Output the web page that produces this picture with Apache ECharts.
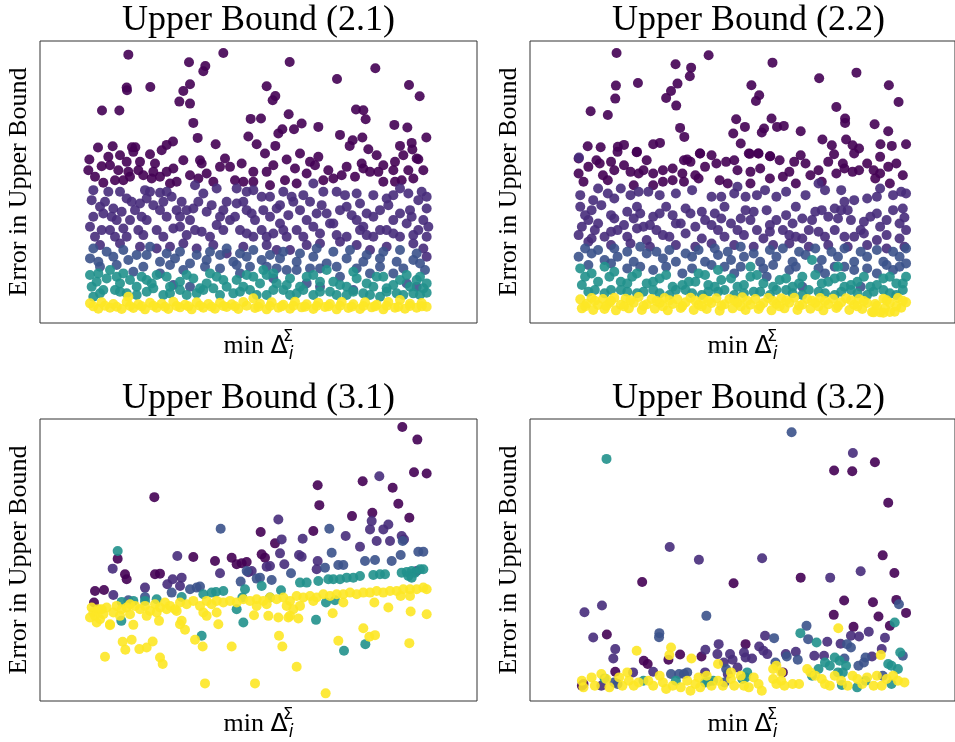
<!DOCTYPE html>
<html>
<head>
<meta charset="utf-8">
<script src="https://cdn.jsdelivr.net/npm/echarts@6/dist/echarts.min.js"></script>
<style>
  html, body { margin: 0; padding: 0; background: #fff; }
  #chart { width: 955px; height: 742px; }
</style>
</head>
<body>
<div id="chart"></div>
<script>
// panel titles and axis names
var titles = ['Upper Bound (2.1)', 'Upper Bound (2.2)', 'Upper Bound (3.1)', 'Upper Bound (3.2)'];
var yName = 'Error in Upper Bound';

// viridis levels used for the colour classes (c0 .. c4)
var levels = ['#440154', '#472c7b', '#3b528b', '#21918c', '#fde725'];

// ---- Upper Bound (2.1) ----
var ub21_c0 = [[14.5,80.6],[43,81.1],[32.7,78.3],[37.6,77.2],[37,75.6],[62.9,78.4],[88.6,76.5],[77.1,73.3],[98.7,71.5],[101.9,68.1],[14,70.7],[14.1,69.9],[21.1,70.9],[33,71.7],[31,69.7],[29.8,66.5],[33,65.9],[56,71.1],[58.6,68.2],[57.8,66.9],[6.6,63.8],[11.8,63.8],[34,60.1],[35.3,55.6],[40.7,53.7],[51.2,61.3],[54.3,61.4],[50.5,56],[53,53.7],[62.6,62.7],[60.7,58.2],[59.5,56.9],[64.2,58.2],[66.5,59.9],[58.6,53.2],[71.5,58.9],[82.8,64.1],[85,63.9],[85.7,61.2],[78,56.5],[81.8,54.9],[80.9,53.2],[84.7,55.7],[94.3,59.5],[98.2,58.7],[103.9,55.7],[96,53.2],[99.5,54.1],[99.7,52.1],[86.5,52.2],[101.5,49.2],[5.4,52.7],[9.8,53.1],[15.6,52.8],[16.6,52.8],[27.9,54.5],[26,53.5],[24.5,51.9],
  [2.8,49.1],[8.5,49.9],[12,50.4],[16,51.4],[21,50.7],[9,47.4],[14,48.4],[11.5,45.9],[14.5,45.4],[17.5,45.9],[22.5,47.9],[22,45.4],[28,46.4],[4.5,43.9],[7,42.1],[10.5,42.9],[13,42.9],[15,43.9],[19,44.4],[21.5,43.4],[24,43.9],[29,42.4],[36,48.9],[36.5,47.9],[42,46.9],[45,46.9],[48.5,47.9],[52,45.4],[56,45.4],[55.5,50.9],[62,49.1],[35.5,43.4],[40,42.4],[46.5,42.9],[49,42.4],[52,42.4],[61.5,42.9],[68,44.9],[69,48.4],[71.5,49.9],[70.5,47.4],[74.5,45.9],[76,43.4],[78.5,44.4],[84.5,47.9],[85,46.4],[87,45.4],[89.5,45.4],[82.5,43.9],[89,50.4],[94.5,48.4],[94,45.9],[98.5,45.9],[101,49.4],[94.5,42.4],[96.5,42.9],[100,43.4],
  [6.5,47.1],[18,48.4],[26,45.4],[31,48.9],[38,44.9],[43.5,49.4],[58,47.4],[64.5,46.4],[66,50.9],[73,42.9],[80,46.9],[91,47.4],[97,50.4],[103,45.9],[2.5,45.9],[27,41.9],[33,44.4],[57,41.4],[65,41.9],[91,42.4]];
var ub21_c1 = [[4,39.9],[12,39.4],[19.5,39.9],[21,39.4],[24,39.1],[34.5,41.4],[47,40.4],[50,39.4],[52,39.9],[54.5,37.9],[61,39.4],[63.5,37.9],[70,41.9],[77,39.4],[79.5,38.4],[96,40.4],[98.5,38.9],[102.5,39.4],[101.5,36.9],[99,33.9],[88,38.4],[92,37.4],[3.5,36.9],[7.5,36.4],[10,34.4],[7,32.9],[4,31.9],[3,28.9],[6.5,27.9],[10.5,25.9],[13,28.4],[15.5,36.4],[18,35.9],[20,37.4],[22,35.4],[24,33.9],[26,31.9],[15,30.9],[20,30.9],[27.5,37.9],[30.5,36.4],[32,33.9],[30,31.9],[34,34.4],[34.5,27.9],[32,26.4],[36.5,27.4],[38,33.4],[42,31.9],[41,29.4],[45,30.9],[47,35.9],[44,36.4],[50,33.9],[52.5,30.9],[55,33.9],[54.5,27.9],[52,25.9],[48,27.9],[60,35.4],[64,36.4],[62.5,32.4],[60,29.9],[58,26.9],[65,27.9],[62,25.9],[69,36.4],[71,32.9],[74,32.9],[70,28.9],[76,29.9],[80,34.9],[84,35.9],[86,32.9],[83,30.9],[88,31.9],[80,25.9],[86,26.4],[90,27.9],[94,30.9],[92,27.9],[96,25.9],[98,29.9],[101.5,27.9],[103,30.9],[104.5,28.9],[28,28.4],[23,27.9],[17.5,27.9],[11,30.9],
  [6,23.4],[12,23.9],[18,22.9],[23,22.4],[27,22.9],[31,23.9],[35,22.4],[40,23.4],[44,20.9],[49,22.9],[56,23.4],[59,21.9],[63,21.9],[68,23.4],[72,23.9],[78,24.4],[83,23.4],[87,21.9],[92,22.9],[100,23.9],[103,22.4],[104,19.9],
  [6,34.9],[9.5,31.9],[12.5,33.4],[16.5,33.9],[18.5,31.9],[25,36.4],[29,33.9],[33,30.9],[35.5,36.4],[39.5,35.4],[43,33.9],[46.5,31.9],[49,36.4],[51.5,32.9],[57,31.9],[59,34.4],[66,33.9],[68,30.9],[72.5,35.4],[75,29.9],[78,33.9],[81.5,32.4],[85,28.9],[90,33.9],[92.5,35.4],[96,32.9],[99.5,31.9],[104,34.4],[4.5,25.9],[9,27.9],[14,25.9],[19,26.4],[25,25.9],[30,28.9],[39,25.9],[43,27.9],[50,26.9],[56,25.9],[61,27.9],[67,25.9],[72,26.9],[77,26.4],[84,27.9],[88,25.9],[94,26.9],[100,26.4],[104,25.9],
  [8.5,39.4],[14,37.4],[26,39.4],[37,38.9],[41,40.4],[57,37.9],[67,38.4],[73,39.4],[83,38.9],[94,38.4],[104,37.9]];
var ub21_c2 = [[3,19.4],[5.5,18.4],[10,19.9],[14.5,18.9],[20,20.4],[24,18.4],[28.5,19.4],[33,17.9],[38,18.9],[42,20.4],[46,18.4],[50,19.9],[54.5,18.9],[60,19.4],[65,18.4],[70,19.9],[74,17.9],[80,19.4],[85,18.4],[90,19.4],[95,18.4],[100,18.9],[103.5,15.9],[47,17.4],[56,16.9],[69,16.4],[62,15.9],[37.5,16.9],[16,15.4],[24,14.9],[28,11.4],[33,10.9],[48,14.9],[58,13.4],[68,11.9],[72,10.9],[78,13.9],[82,9.9],[87,14.9],[94,14.9],[98,11.9],[101,10.9],
  [4,22.4],[8,21.4],[13,21.9],[17,20.4],[21,22.9],[26,20.9],[30,21.4],[35,20.4],[39,21.4],[44,22.4],[48,20.9],[52,21.9],[57,20.4],[61,21.4],[66,20.9],[71,22.4],[76,21.4],[81,21.9],[86,20.4],[91,21.4],[96,21.9],[101,20.9],[6,16.9],[11,17.4],[19,16.9],[27,17.4],[31,15.9],[42,16.4],[51,16.9],[59,16.4],[65,15.9],[72,16.4],[77,16.9],[83,16.4],[90,16.9],[97,16.4],[102,17.9]];
var ub21_c3 = [[3,14.4],[5.5,14.9],[9,15.9],[11,13.9],[13,14.9],[15,12.9],[18.5,13.9],[21.5,11.9],[26,13.9],[30,12.4],[34,13.4],[38,11.9],[41,13.9],[44,10.9],[47,12.9],[52,13.9],[56,14.4],[59,11.9],[63,13.4],[66,10.9],[70,14.4],[74,15.9],[76,12.4],[80,10.9],[83,13.4],[86,11.9],[89,13.9],[92,10.4],[96,12.9],[99,10.9],[102,13.9],[104,11.9],[3.5,10.9],[7,9.9],[10.5,9.9],[14,8.9],[20,9.4],[25,8.4],[30,9.9],[35,8.9],[40,10.4],[46,8.9],[51,9.9],[56,8.4],[61,9.9],[65,8.9],[70,8.4],[75,9.4],[80,8.4],[85,8.9],[90,7.9],[95,8.9],[100,8.9],[104,9.1],[4,7.9],[55,15.9],
  [5,12.4],[8,13.4],[12,11.9],[17,10.9],[20,12.9],[23,14.4],[27,10.9],[32,14.4],[36,10.4],[39,14.9],[43,12.9],[49,10.9],[50,14.4],[54,11.9],[58,14.9],[62,11.4],[68,13.9],[72,12.4],[78,11.4],[82,15.4],[88,10.9],[91,13.9],[94,11.4],[98,14.4],[101,12.9],[103,10.4],[6,8.9],[12,9.4],[17,8.4],[22,10.4],[27,8.9],[32,8.4],[37,9.9],[42,8.4],[48,9.4],[53,8.4],[58,9.9],[63,8.4],[67,9.9],[72,9.4],[77,8.4],[82,9.4],[87,8.4],[92,9.4],[97,8.4],[102,8.4]];
var ub21_c4 = [[3,5.9],[5.5,4.3],[6.5,6.2],[9,4.6],[10,5.7],[12.5,4.2],[14,6.3],[14.5,7.9],[16,4.5],[17.5,5.6],[19.5,4.1],[21,6.1],[23,4.6],[24.5,5.8],[26.5,4.2],[28,6.4],[30,4.7],[31.5,5.5],[33.5,4.1],[35,6.2],[37,4.6],[38.5,5.7],[40.5,4.3],[42,6.1],[44,4.8],[45.5,5.6],[47.5,4.2],[49,6.3],[52,7.4],[52.5,4.5],[54,5.8],[56,4.1],[57.5,6.2],[59.5,4.6],[61,5.5],[63,4.3],[64.5,6.4],[66.5,4.7],[68,5.6],[70,4.2],[71.5,6.1],[73.5,4.8],[75,5.7],[77,4.1],[78.5,6.3],[80.5,4.5],[82,5.6],[84,4.2],[85.5,6.2],[87.5,4.7],[89,5.5],[91,4.1],[92.5,6.3],[94.5,4.6],[96,6.9],[97.5,4.3],[99,5.8],[101,4.6],[102.5,6.0],[104,4.9],
  [4,5.0],[7.5,5.2],[11,4.9],[15,5.1],[18.5,5.0],[22,5.2],[25.5,4.9],[29,5.1],[32.5,5.0],[36,5.2],[39.5,4.9],[43,5.1],[46.5,5.0],[50,5.2],[53.5,4.9],[57,5.1],[60.5,5.0],[64,5.2],[67.5,4.9],[71,5.1],[74.5,5.0],[78,5.2],[81.5,4.9],[85,5.1],[88.5,5.0],[92,5.2],[95.5,4.9],[99,5.1],[102.5,5.0]];

// ---- Upper Bound (2.2) ----
var ub22_c0 = [[14.7,81.1],[43.1,80.4],[32.9,77.7],[37.7,76.7],[37.3,74.1],[62.8,78.2],[88.7,75.2],[77.2,73.5],[98.7,71.4],[101.7,66.4],[14.5,71.3],[14.3,67.4],[21.3,72.1],[33.5,71.9],[31.5,69.7],[30,67.6],[33.1,65.3],[56.3,71.4],[58.7,68.4],[57.7,66.7],[6.7,63.6],[12,62.5],[34.3,58.6],[35.6,55.9],[51.6,61.2],[54.3,58.9],[50.7,56.9],[53,53.9],[62.5,61.4],[60.2,58.4],[59.5,57.2],[64.2,58.9],[66.3,59.2],[71.5,57.6],[82.5,64.9],[85.2,61.4],[85.2,60.1],[94.3,59.7],[78.2,55.1],[81.1,53.4],[81.8,50.7],[85.5,55.1],[87.5,53.4],[89.5,52.4],[98.5,57.6],[96.1,53.7],[99.6,53.2],[104,53.7],[5.8,53.1],[9.8,52.8],[15.1,52.9],[17,53.5],[55.8,50.8],[58.4,50.9],[62.1,50.1],[28.1,54.1],[26,53.7],[20.9,51.3],[40.4,50.9],[36.5,49.1],
  [3,49.4],[8.5,48.9],[9.5,47.9],[13,48.4],[15,51.4],[21,51.4],[24,48.9],[29,45.9],[23,45.9],[21.5,44.9],[19,45.4],[14,45.9],[10.5,44.4],[12,42.9],[4.5,42.4],[20,41.4],[29,42.4],[35.5,48.9],[37.5,48.4],[40.5,50.9],[42,46.9],[45.5,47.9],[48.5,48.4],[52,45.9],[56,45.4],[55.5,50.9],[58.5,50.9],[62,50.1],[62,43.4],[68,45.4],[70,41.9],[69.5,48.4],[71.5,50.4],[73,47.9],[74.5,44.4],[35,44.9],[35.5,42.4],[40,43.4],[46.5,42.9],[49,41.9],[84.5,47.9],[85,46.4],[87.5,45.4],[89.5,45.9],[82.5,44.9],[88,50.9],[94,45.9],[94.5,43.4],[98.5,46.9],[101,47.9],[96,44.9],[99,41.9],
  [6,46.9],[17,47.4],[26,44.9],[32,46.4],[39,44.4],[44,50.4],[51,48.9],[59,46.4],[65,48.9],[66,43.9],[77,45.9],[80,48.4],[92,47.9],[96,49.9],[103,44.4],[3,44.9],[26,41.4],[32,42.9],[56,41.9],[78,42.4]];
var ub22_c1 = [[3.1,49.7],[16,40.4],[3.5,38.4],[7.5,36.9],[12,38.9],[21.5,39.4],[24.5,39.4],[28,38.4],[52,40.9],[47,37.9],[51,38.9],[54.5,37.9],[44,37.9],[60.5,39.9],[64,37.9],[77,41.9],[79,39.9],[96,40.4],[100,38.4],[102.5,39.4],[88,36.9],[92,37.4],[85,36.4],[82,34.4],[3.5,34.9],[7,33.9],[10,35.4],[13,32.4],[6,30.9],[4,28.9],[8,27.9],[11,25.9],[15,27.9],[18,33.4],[20,31.4],[23,28.9],[26,31.9],[27,27.9],[30,34.9],[32,32.4],[34.5,29.9],[31,25.9],[37.5,32.9],[39,28.9],[42,30.9],[45,32.9],[48,34.9],[50,29.9],[52,27.9],[54.5,33.9],[56,30.9],[58,27.9],[61,33.9],[64,30.9],[66,27.9],[60,25.4],[70,34.9],[72,31.4],[74,27.9],[76,33.4],[80,31.9],[82,27.9],[84,33.9],[87,30.9],[90,27.9],[93,31.9],[96,28.9],[100,33.9],[102,29.9],[104,27.9],[103.5,31.7],[88,25.9],[95,24.9],[79,25.9],[70,25.9],[48,25.9],[24,24.9],[21,34.9],
  [6,24.4],[13,23.4],[19,23.9],[25,22.9],[33,23.4],[39,22.9],[44,23.9],[51,23.4],[57,22.9],[63,23.4],[68,23.9],[74,22.9],[80,23.4],[86,22.9],[92,23.4],[98,22.4],[103.5,22.9],
  [5,32.4],[9,29.9],[14,31.4],[17,29.4],[22,32.9],[25,29.4],[28,32.9],[33,29.9],[36,34.4],[41,33.4],[44,29.4],[47,31.4],[53,31.4],[57,33.4],[62,29.4],[67,32.4],[69,29.9],[75,30.9],[78,33.9],[83,31.4],[86,33.9],[91,30.4],[95,32.9],[98,30.9],[103,34.4],[3,26.4],[7,25.4],[13,27.4],[18,25.9],[21,28.4],[29,26.4],[36,26.9],[41,25.4],[46,27.9],[54,26.4],[62,27.4],[68,26.4],[72,25.4],[77,27.4],[85,25.9],[91,26.9],[98,26.4],[102,25.4],
  [9,40.4],[14,37.4],[19,38.4],[33,38.9],[38,39.9],[58,38.4],[67,39.4],[73,38.4],[84,39.9],[95,37.9],[104,38.9]];
var ub22_c2 = [[3,19.9],[7,20.9],[11,18.9],[15,19.9],[20,18.4],[24,20.9],[29,19.4],[33,18.4],[38,19.9],[42,18.4],[46,20.4],[50,18.9],[54,19.9],[59,18.4],[64,19.9],[69,18.4],[73,20.4],[78,18.9],[83,19.9],[88,18.4],[92,19.9],[97,18.4],[102,19.9],[104,17.9],[22,16.9],[48,16.9],[60,16.4],[85,16.9],[26,15.9],[35,14.9],[51,14.9],[61,13.9],[68,15.9],[79,14.9],[88,15.9],[95,14.9],[100,15.9],[72,10.9],[90,10.9],
  [5,22.4],[9,21.9],[14,22.4],[18,21.4],[22,22.9],[27,21.4],[31,21.9],[36,20.9],[40,21.9],[45,22.4],[49,21.4],[53,22.9],[57,20.9],[62,21.9],[66,22.4],[71,21.4],[76,22.4],[81,21.4],[85,22.4],[90,21.4],[95,21.9],[100,21.4],[104,22.4],[6,17.4],[13,17.9],[18,16.4],[30,16.9],[38,16.4],[44,17.4],[53,16.9],[63,17.4],[70,16.9],[77,16.4],[82,16.9],[92,16.4],[98,17.4],[102,16.9]];
var ub22_c3 = [[3.5,16.4],[7,14.9],[11,16.9],[12.5,13.9],[16,12.4],[19.5,13.9],[24,11.9],[28,13.4],[32,10.9],[37,12.4],[40,14.9],[43,11.4],[47,12.9],[52,10.9],[56,13.9],[60,11.9],[65,12.9],[69,10.9],[72,13.9],[75,18.9],[78,11.9],[82,13.4],[85,10.9],[89,12.4],[93,10.9],[97,13.4],[101,11.9],[104,13.9],[4,11.4],[8,9.9],[13,9.9],[18,9.4],[23,9.4],[28,8.9],[33,9.9],[38,8.9],[43,9.4],[48,9.9],[54,8.9],[59,9.4],[64,9.9],[69,8.9],[74,9.9],[79,8.9],[84,9.4],[89,8.9],[94,9.4],[99,8.9],[103,9.9],[46,15.9],[56,16.9],[83,16.9],
  [5,13.9],[9,12.4],[14,15.4],[18,11.9],[21,14.9],[26,12.4],[30,14.4],[35,11.4],[39,12.4],[42,14.4],[45,10.9],[50,13.4],[54,11.4],[58,14.4],[63,10.9],[67,13.4],[71,11.9],[76,14.4],[80,12.4],[84,13.9],[87,11.4],[91,13.9],[95,11.4],[99,13.9],[103,11.9],[6,9.4],[11,8.9],[16,9.9],[21,8.9],[26,9.9],[31,8.4],[36,9.9],[41,8.4],[46,9.4],[51,8.4],[57,9.4],[62,8.4],[67,9.9],[72,8.4],[77,9.4],[82,8.4],[87,9.9],[92,8.4],[97,9.9],[101,8.4]];
var ub22_c4 = [[3.5,7.1],[4,4.4],[5.5,5.8],[7,7.5],[7.5,3.9],[9,5.4],[10.5,7.2],[11,4.2],[12.5,6.0],[14,7.6],[14.5,3.8],[16,5.5],[17.5,7.3],[18.5,4.4],[20,6.1],[21.5,7.8],[22.5,3.9],[24,5.6],[25.5,7.2],[26.5,4.3],[28,6.0],[29.5,7.5],[30.5,3.8],[32,5.7],[33.5,7.1],[34.5,4.5],[36,6.2],[37.5,7.6],[38.5,3.9],[40,5.5],[41.5,7.3],[42.5,4.2],[44,6.0],[45.5,7.4],[46.5,3.7],[48,5.6],[49.5,7.2],[50.5,4.4],[52,6.1],[53.5,7.7],[54.5,3.9],[56,5.5],[57.5,7.2],[58.5,4.2],[60,6.0],[61.5,7.5],[62.5,3.8],[64,5.7],[65.5,7.4],[66.5,4.4],[68,6.1],[69.5,7.6],[70.5,3.9],[72,5.5],[73.5,7.2],[74.5,4.3],[76,6.0],[77.5,7.5],[78.5,3.8],[80,5.6],[81.5,7.3],[82.5,4.5],[84,6.2],[85.5,7.4],[86.5,3.9],[88,5.5],[89.5,7.2],[90.5,4.2],[92,6.0],[93.5,3.3],[94.5,5.7],[96,3.2],[97,7.3],[97.5,4.4],[99,6.1],[100.5,3.4],[101.5,7.5],[102.5,4.6],[104,6.2],
  [5,5.0],[8,6.7],[11.5,5.1],[13,6.7],[17,5.0],[19,6.8],[23,5.2],[27,6.6],[29,5.0],[31,6.8],[35,5.1],[39,6.7],[41,5.0],[43,6.6],[47,5.2],[51,6.8],[53,5.0],[55,6.7],[59,5.1],[63,6.6],[65,5.0],[67,6.8],[71,5.2],[75,6.7],[77,5.0],[79,6.6],[83,5.1],[87,6.8],[89,5.0],[91,6.6],[95,5.2],[98,6.8],[101,5.0],[103,6.7],[94,3.2],[97,3.1],[99,3.3]];

// ---- Upper Bound (3.1) ----
var ub31_c0 = [[96.7,82.4],[101.2,78.6],[100.2,68.8],[104,68.4],[22.3,61.3],[71.3,64.9],[71.8,58.9],[84.8,66.1],[93.8,64.1],[95.5,59.3],[98.8,55.1],[81.6,55.6],[87.7,56.6],[54.2,50.8],[34,43.3],[40.5,42.1],[11.3,42.8],[14,36.6],[13.5,38.1],[22.5,38.1],[24,38.3],[4.5,33.1],[7.2,33.4],[4.2,29.6],[70,51.1],[45.5,43.1],[47,41.1],[48.5,41.4],[50,41.8],[54.5,44.1],[55.5,43.1],[58.5,47.4]];
var ub31_c1 = [[89.8,67.6],[59.5,54.6],[29.2,43.6],[9.8,39.8],[19.5,34.1],[10,31.9],[26.2,35.1],[27.8,36.6],[30.5,37.1],[30,34.6],[42,38.4],[51.5,39.1],[50.5,38.7],[56,40.4],[57,40.6],[60.5,48.6],[60,44.4],[61.3,41.1],[66.8,48.8],[65.7,43.9],[66.5,43.4],[71.3,42.1],[71,39.6],[79.7,49.6],[84,46.4],[87,51.6],[87.5,54.1],[89,48.1],[91,51.6],[92.5,53.1],[96.5,49.6],[97.2,48.6],[93,48.1],[101,39.1]];
var ub31_c2 = [[42.2,51.8],[74.8,51.8],[75.5,44.6],[85.5,42.1],[88.5,42.4],[93.5,42.1],[96.2,43.9],[96.8,48.1],[77.5,40.9],[79,40.9],[73.5,40.1],[63.3,38.4],[57.5,36.4],[53,36.8],[54,37.1],[48.2,35.9],[50,39.1],[33,33.6],[35,34.1],[36,34.4],[27.5,32.6],[19.5,31.3],[14.5,30.3],[101.5,44.9],[103,44.9]];
var ub31_c3 = [[11.3,45.1],[12.4,24.1],[36.5,19.6],[47,27.6],[49,23.6],[70.8,24.4],[73.8,29.6],[76.5,30.3],[79.2,15.1],[85.6,17.1],[60.3,33.3],[57,31.1],[54.5,34.6],[49.5,33.6],[48.7,31.1],[40.8,32.8],[43,33.1],[37,32.1],[39.5,32.6],[30.5,31.3],[23,30.6],[19.5,30.1],[16,30.1],[12.5,29.8],[66,35.6],[68,35.6],[71.5,36.1],[74.5,36.6],[76,36.6],[78,36.6],[80,37.1],[82,37.1],[84,37.6],[88,37.9],[90,38.1],[91.5,38.1],[96.5,38.6],[98,38.8],[99.5,39.1],[100.5,38.6],[102,39.6],[103,39.6],[98.5,37.6],[99.5,37.1]];
var ub31_c4 = [[3.5,28.1],[4,26.6],[4.5,25.6],[5.5,27.6],[6,24.6],[7,26.1],[8,28.1],[9,23.1],[10,26.6],[11,28.6],[12.5,27.6],[14,28.1],[15,29.1],[16.5,28.6],[18,27.6],[19.5,28.6],[21,27.1],[22.5,29.1],[24,28.1],[25.5,29.6],[27,28.6],[28.5,27.6],[30,29.6],[32,29.1],[34,30.1],[36,28.6],[38,30.1],[39.5,29.1],[41,30.1],[43,29.6],[45,30.1],[47,29.6],[49,30.6],[51,30.1],[53,30.6],[55,30.1],[57,31.1],[59,30.6],[61,31.1],[63,30.1],[65,31.6],[67,31.1],[69,31.6],[71,31.1],[73,32.1],[75,31.6],[77,32.1],[79,32.1],[81,32.6],[83,32.1],[85,32.6],[87,32.6],[89,33.1],[91,32.6],[93,33.1],[95,33.1],[97,33.6],[99,33.6],[101,33.6],[103,34.1],[104,33.6],
  [5,23.6],[3,25.1],[6.5,27.6],[12,25.6],[15,26.1],[20,25.6],[23,26.6],[26,27.6],[29,27.1],[37,26.6],[38,25.6],[41,26.6],[53,28.6],[56,29.1],[62,28.6],[64,27.6],[66,28.6],[70,30.1],[63,25.6],
  [7.5,13.3],[12.8,17.8],[15.5,18.4],[13.6,15.4],[17.8,15.6],[20,16.1],[21.8,17.9],[24,13.1],[24.8,11.1],[30,23.1],[31.5,21.4],[34.5,18.4],[36.8,16.4],[37.5,5.3],[41.5,23.1],[45.5,16.4],[52.2,25.8],[52.5,5.3],[56.5,25.6],[59.5,25.1],[59.7,19.6],[60.7,16.4],[62.5,25.1],[65,10.3],[65.5,24.8],[73.7,2.3],[75.8,26.4],[77.5,18.1],[85,21.9],[86.8,19.3],[88.5,19.8],[88.3,29.6],[92.5,28.1],[96.2,31.6],[99,31.6],[99.2,26.9],[98.8,17.4],[104,26.1],[79,29.6],[16,22.9],[9,22.8],[23.7,24.1],[30.5,24.1]];

// ---- Upper Bound (3.2) ----
var ub32_c0 = [[81.8,69.3],[87.4,69.1],[94.4,71.8],[98.5,59.6],[22.6,35.8],[50.8,35.4],[71.5,37.1],[96.8,43.8],[100.4,38.5],[11.7,20],[84.9,30.2],[93.8,29.7],[101,30.4],[81.7,25.9],[95.5,25.4],[104,26.5],[99,22.6],[87.8,22.3],[14.3,8.8],[23.1,12.1],[24.3,11.1],[30.7,12.4],[34.3,14.0],[40.9,13.4],[54.5,17.1],[66,8.6],[4.5,5.1],[4,4.6]];
var ub32_c1 = [[87.6,74.6],[31.1,46.3],[40.1,42.5],[59.6,42.9],[80.6,37.1],[90,39],[4.8,26.7],[10.2,28.7],[7.5,19.1],[92.5,20.8],[97.5,19],[87,19.6],[89.5,19.4],[83.8,17.2],[79.7,17.8],[14.3,15.6],[13.7,12.8],[26,8.8],[19.8,8.6],[42.1,15.4],[46.2,17.1],[45.8,14.1],[47.8,11.6],[49.7,14.1],[50.5,12.4],[52,10.1],[54,14.6],[54.5,13.1],[56.5,12.8],[58.7,16.4],[60,15.1],[61.2,14.1],[60.5,19.6],[66.9,14.1],[70,14.8],[42,8.6],[75.7,13.6],[78.7,13.6],[93.5,13.4],[96.5,15.6],[10,4.6],[49,8.1]];
var ub32_c2 = [[68.7,80.8],[42.4,25.6],[101.8,29.1],[73.3,22.6],[73.8,18.6],[27.9,20.4],[27.8,19.2],[63.3,18.9],[63.7,11.6],[67.2,13.4],[70.6,12.4],[48.5,9.6],[48,5.6],[85.8,17.1],[87,16.1],[85,12.8],[89.3,10.6],[91,11.6],[91.5,13.1],[103,13.6],[96.8,7.6],[31.5,8.1],[34,8.1],[35.5,8.1],[36.5,8.6],[14,5.6],[15,5.1]];
var ub32_c3 = [[11.6,72.8],[100.5,23.6],[71.4,20.4],[76.4,17.6],[79,11.6],[80.5,10.6],[82,13.1],[83.5,12.1],[85.5,10.6],[98.5,11.1],[99.5,10.6],[101.5,9.6],[102.2,14.6],[91.5,6.1],[99.5,5.1],[88.9,4.1],[84.2,4.8],[75,7.6],[77,9.6],[83,8.6],[84.5,8.6],[55,8.6],[54.5,7.1],[53.5,6.6],[44.5,6.1],[43,5.8],[42,5.6],[33,6.1],[23,6.1],[11,6.8]];
var ub32_c4 = [[83.1,21.9],[20.9,15.1],[31.5,16.1],[31,13.8],[37.8,12.8],[46,11.1],[96.2,13.8],
  [4,6.1],[4.5,4.1],[7,7.1],[8,4.6],[10,8.1],[11.5,6.6],[12.5,4.1],[15.5,7.1],[16.5,4.6],[18,8.6],[18.5,6.1],[20,4.6],[21.5,5.6],[24.5,6.1],[26,4.6],[28,7.6],[29,5.6],[30,3.6],[32,4.6],[34.5,4.1],[36.5,6.1],[37.5,3.1],[39,5.1],[40,7.1],[40.5,4.1],[42.5,7.6],[44,4.6],[46,6.1],[47.5,4.6],[50,6.6],[51,4.6],[53,7.6],[54,4.6],[55.5,4.1],[57,7.1],[58.5,5.1],[59.5,3.1],[63,6.6],[64,5.1],[65.5,6.1],[66.5,4.6],[69,5.1],[71,5.1],[73.5,9.6],[74.5,8.6],[76,7.6],[78,6.6],[79,5.1],[80.5,4.6],[82,7.6],[84,6.1],[86,4.6],[87.5,7.6],[89,6.6],[90.5,5.1],[92,7.1],[94,4.6],[95,7.6],[96.5,4.6],[98,6.6],[100,7.6],[101.5,6.1],[103.5,5.6],[63,9.6],[64,10.6],[65.5,8.6],[50,8.6]];

var panels = [
  [ub21_c0, ub21_c1, ub21_c2, ub21_c3, ub21_c4],
  [ub22_c0, ub22_c1, ub22_c2, ub22_c3, ub22_c4],
  [ub31_c0, ub31_c1, ub31_c2, ub31_c3, ub31_c4],
  [ub32_c0, ub32_c1, ub32_c2, ub32_c3, ub32_c4]
];
var yMax = [84.7, 84.7, 84.8, 84.8];

var boxes = [
  { left: 40, top: 41, width: 437, height: 282 },
  { left: 530, top: 41, width: 437, height: 282 },
  { left: 40, top: 419, width: 437, height: 283 },
  { left: 530, top: 419, width: 437, height: 283 }
];

var chartDom = document.getElementById('chart');
var myChart = echarts.init(chartDom, null, { renderer: 'canvas' });

var serif = '"Liberation Serif", "Times New Roman", serif';
var grids = [], xAxes = [], yAxes = [], titleList = [], series = [];

boxes.forEach(function (b, k) {
  grids.push({
    left: b.left, top: b.top, width: b.width, height: b.height,
    show: true, borderColor: '#333', borderWidth: 1, backgroundColor: 'transparent'
  });
  titleList.push({
    text: titles[k],
    left: b.left + b.width / 2,
    textAlign: 'center',
    top: b.top - 38,
    padding: 0,
    textStyle: { fontFamily: serif, fontSize: 36, fontWeight: 'normal', color: '#000' }
  });
  xAxes.push({
    type: 'value', gridIndex: k, min: -12, max: 119.1,
    axisLine: { show: false }, axisTick: { show: false },
    axisLabel: { show: false }, splitLine: { show: false },
    name: 'min {d|Δ}{s|Σ}{i|i}',
    nameLocation: 'middle',
    nameGap: 6,
    nameTextStyle: {
      fontFamily: serif, fontSize: 26, color: '#000', lineHeight: 34,
      rich: {
        d: { fontFamily: 'DejaVu Sans', fontSize: 25, color: '#000', lineHeight: 34 },
        s: { fontFamily: 'DejaVu Sans', fontSize: 16, color: '#000', lineHeight: 16, verticalAlign: 'top', width: 1 },
        i: { fontFamily: 'DejaVu Sans', fontSize: 17, fontStyle: 'italic', color: '#000', lineHeight: 16, verticalAlign: 'bottom' }
      }
    }
  });
  yAxes.push({
    type: 'value', gridIndex: k, min: 0, max: yMax[k],
    axisLine: { show: false }, axisTick: { show: false },
    axisLabel: { show: false }, splitLine: { show: false },
    name: yName,
    nameLocation: 'middle',
    nameRotate: 90,
    nameGap: 8,
    nameTextStyle: { fontFamily: serif, fontSize: 26, color: '#000' }
  });
  panels[k].forEach(function (pts, j) {
    series.push({
      type: 'scatter',
      xAxisIndex: k,
      yAxisIndex: k,
      data: pts,
      symbolSize: 10,
      silent: true,
      itemStyle: { color: levels[j], opacity: 0.9 }
    });
  });
});

var option = {
  animation: false,
  backgroundColor: '#fff',
  title: titleList,
  grid: grids,
  xAxis: xAxes,
  yAxis: yAxes,
  series: series
};

option && myChart.setOption(option);
</script>
</body>
</html>
